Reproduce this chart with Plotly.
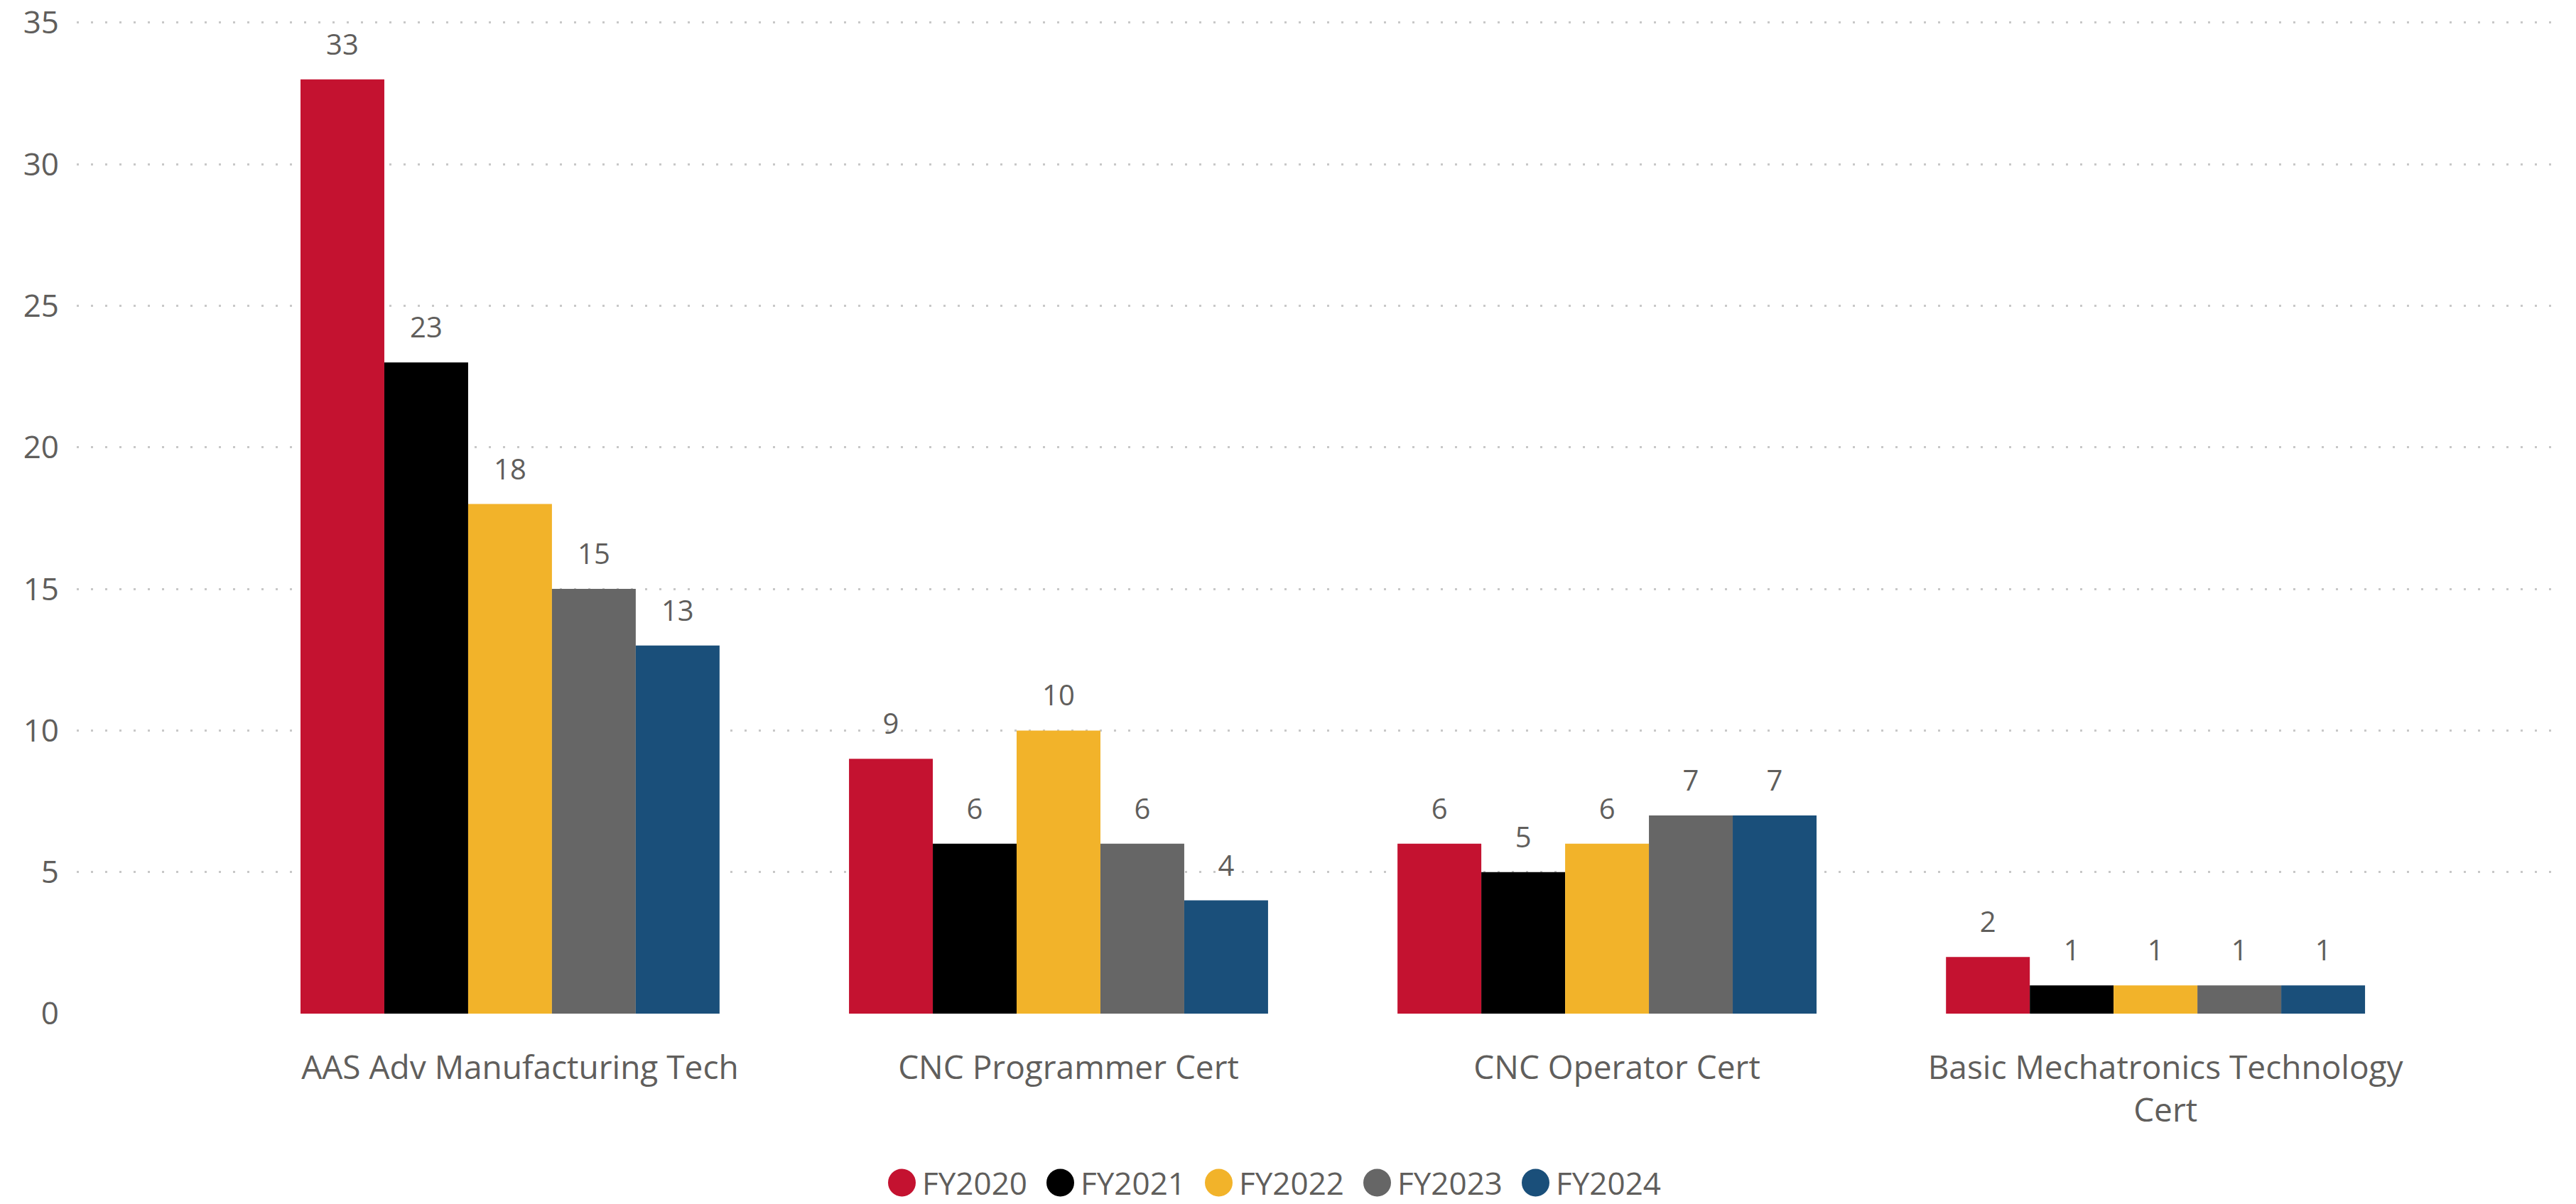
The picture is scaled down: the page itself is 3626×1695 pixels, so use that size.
import plotly.graph_objects as go

categories = ["AAS Adv Manufacturing Tech", "CNC Programmer Cert", "CNC Operator Cert",
              "Basic Mechatronics Technology<br>Cert"]
series_names = ["FY2020", "FY2021", "FY2022", "FY2023", "FY2024"]
fy2020 = [33, 9, 6, 2]
fy2021 = [23, 6, 5, 1]
fy2022 = [18, 10, 6, 1]
fy2023 = [15, 6, 7, 1]
fy2024 = [13, 4, 7, 1]
colors = ["#C41230", "#000000", "#F2B32A", "#666666", "#1A4F7A"]
y_ticks = [0, 5, 10, 15, 20, 25, 30, 35]

values = [fy2020, fy2021, fy2022, fy2023, fy2024]
FONT = "Segoe UI, Open Sans, sans-serif"
TXT = "#605E5C"

W, H = 3626, 1695
ML, MR, MT, MB = 108, 19, 20, 268
PW, PH = W - ML - MR, H - MT - MB

fig = go.Figure()
for name, vals, col in zip(series_names, values, colors):
    fig.add_trace(go.Bar(
        x=categories, y=vals, name=name, marker=dict(color=col, line=dict(width=0)),
        texttemplate="<span style='font-size:40px'>%{y}</span><br><span style='color:rgba(0,0,0,0)'>.</span>",
        textposition="outside",
        textfont=dict(family=FONT, size=20, color=TXT),
        cliponaxis=False, showlegend=False,
    ))

# custom legend: circle markers + labels below the plot
leg_start_px, leg_pitch_px, leg_y_px = 1269.5, 223, 1665
for i, (name, col) in enumerate(zip(series_names, colors)):
    cx = (leg_start_px + i * leg_pitch_px - ML) / PW
    cy = -(leg_y_px - (MT + PH)) / PH
    fig.add_shape(type="circle", xref="paper", yref="paper", xsizemode="pixel", ysizemode="pixel",
                  xanchor=cx, yanchor=cy, x0=-19.5, x1=19.5, y0=-19.5, y1=19.5,
                  fillcolor=col, line=dict(width=0))
    fig.add_annotation(text=name, xref="paper", yref="paper", x=cx + 27 / PW, y=cy,
                       xanchor="left", yanchor="middle", showarrow=False, borderpad=0,
                       font=dict(family=FONT, size=44, color=TXT))

fig.update_layout(
    width=W, height=H,
    margin=dict(l=ML, r=MR, t=MT, b=MB, autoexpand=False),
    paper_bgcolor="white", plot_bgcolor="white",
    barmode="group", bargap=0.236, bargroupgap=0,
    font=dict(family=FONT, color=TXT),
)
fig.update_xaxes(range=[-0.790, 3.742], showgrid=False, zeroline=False, showline=False,
                 tickfont=dict(family=FONT, size=46, color=TXT), ticks="",
                 ticklabelstandoff=45, ticklabelshift=14, automargin=False)
fig.update_yaxes(range=[0, 35.3], tickvals=y_ticks, showgrid=True, gridcolor="#C8C8C8",
                 gridwidth=3, griddash="3px,17px", zeroline=False, showline=False,
                 tickfont=dict(family=FONT, size=44, color=TXT), ticks="",
                 ticklabelstandoff=24, ticklabeloverflow="allow", automargin=False)

fig.write_html("out.html", config={"displayModeBar": False},
               post_script="document.body.style.margin='0px';document.body.style.overflow='hidden';")
